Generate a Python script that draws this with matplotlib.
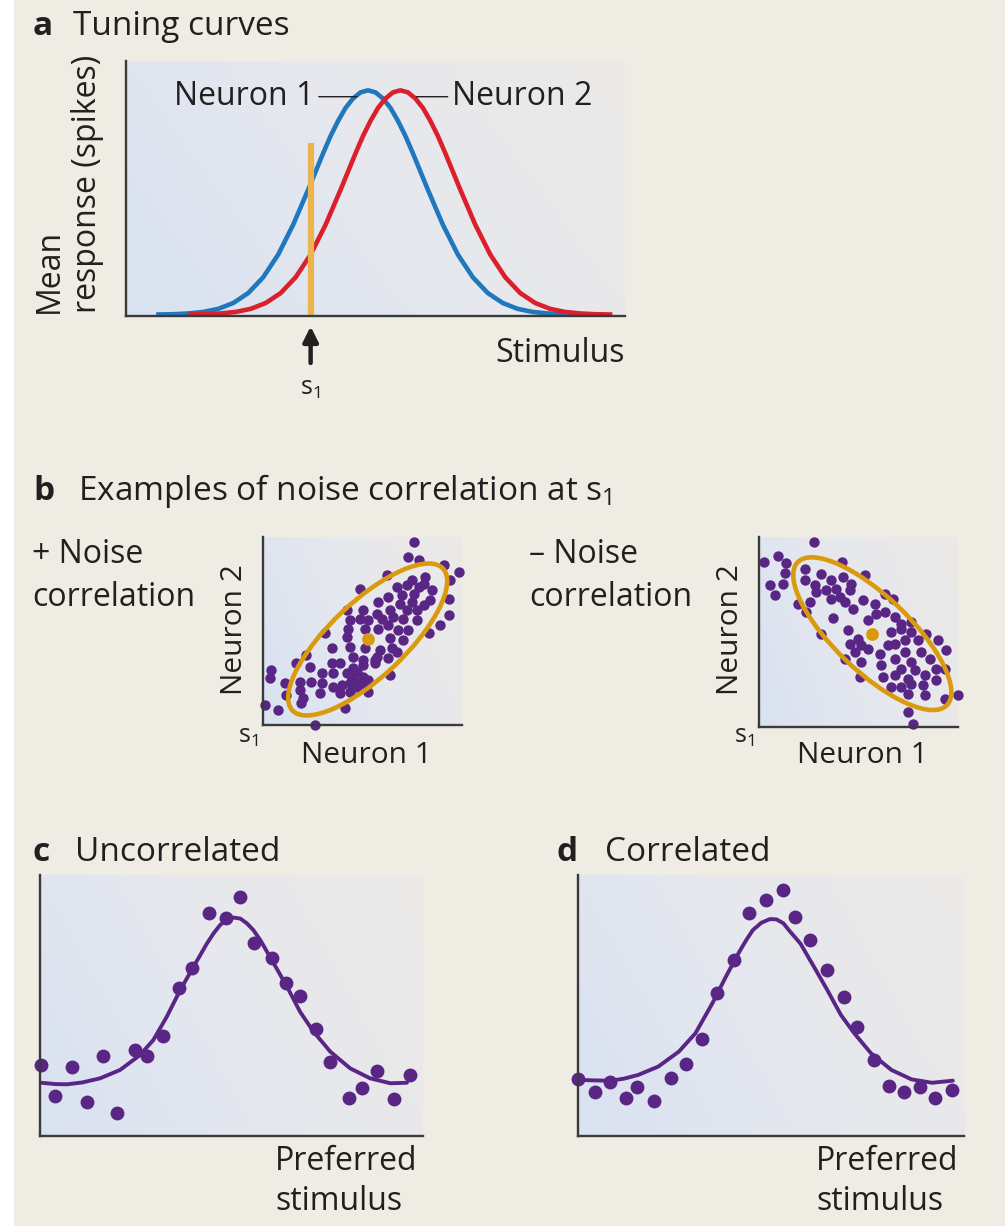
import matplotlib
matplotlib.use('Agg')
import numpy as np
import matplotlib.pyplot as plt
from matplotlib.patches import Ellipse, Rectangle
from matplotlib.colors import LinearSegmentedColormap

plt.rcParams['font.family'] = ['Open Sans', 'DejaVu Sans']
plt.rcParams['mathtext.fontset'] = 'custom'
plt.rcParams['mathtext.rm'] = 'Open Sans'
plt.rcParams['mathtext.it'] = 'Open Sans'

W, H = 1005, 1229

# ---- panel a: tuning curves (stimulus 0-100, normalised mean response) ----
stim_n1 = [6.5, 9.5, 12.5, 15.5, 18.5, 21.5, 24.5, 27.5, 30.5, 33.5, 36.5, 39.5,
           41, 42.5, 44, 45.5, 47, 48.5, 50, 51.5, 53, 54.5, 56, 57.5,
           60.5, 63.5, 66.5, 69.5, 72.5, 75.5, 78.5, 81.5, 84.5, 87.5, 90.5]
resp_n1 = [0.006, 0.007, 0.010, 0.016, 0.028, 0.051, 0.090, 0.152, 0.241, 0.358, 0.495, 0.638,
           0.706, 0.765, 0.816, 0.853, 0.877, 0.885, 0.877, 0.853, 0.816, 0.765, 0.706, 0.638,
           0.495, 0.358, 0.241, 0.152, 0.090, 0.051, 0.028, 0.016, 0.010, 0.007, 0.006]
stim_n2 = [13, 16, 19, 22, 25, 28, 31, 34, 37, 40, 43, 46,
           47.5, 49, 50.5, 52, 53.5, 55, 56.5, 58, 59.5, 61, 62.5, 64,
           67, 70, 73, 76, 79, 82, 85, 88, 91, 94, 97]
resp_n2 = [0.006, 0.007, 0.010, 0.016, 0.028, 0.051, 0.090, 0.152, 0.241, 0.358, 0.495, 0.638,
           0.706, 0.765, 0.816, 0.853, 0.877, 0.885, 0.877, 0.853, 0.816, 0.765, 0.706, 0.638,
           0.495, 0.358, 0.241, 0.152, 0.090, 0.051, 0.028, 0.016, 0.010, 0.007, 0.006]
s1 = 37.0

# ---- panel b: single-trial responses at s1 (spikes) ----
pos_n1 = [49.0, 47.5, 50.5, 58.0, 62.5, 41.0, 48.5, 52.5, 60.0, 33.0, 44.0, 47.0, 50.5, 54.5,
          52.0, 38.5, 41.5, 45.5, 49.0, 54.0, 59.5, 29.0, 34.0, 38.0, 42.0, 45.0, 47.0, 50.0,
          52.0, 48.5, 59.5, 30.0, 33.0, 35.5, 39.5, 43.0, 46.0, 50.0, 57.0, 22.5, 29.5, 34.5,
          38.5, 41.5, 44.5, 47.5, 53.5, 29.0, 42.0, 46.0, 24.5, 30.0, 34.5, 39.0, 42.5, 17.0,
          31.0, 38.0, 41.5, 44.0, 14.0, 18.0, 24.5, 27.0, 34.0, 37.5, 6.5, 21.5, 25.0, 29.0,
          32.0, 34.0, 42.0, 6.0, 10.5, 15.0, 18.5, 21.5, 25.0, 30.0, 33.0, 34.5, 11.0, 15.0,
          21.0, 27.0, 30.0, 35.5, 16.0, 4.5, 8.5, 15.5, 28.5, 19.5, 31.0, 30.5, 35.5, 27.5,
          32.0, 37.5, 34.0]
pos_n2 = [56.5, 52.0, 51.0, 49.5, 47.5, 46.5, 45.0, 46.0, 45.0, 42.5, 43.0, 43.5, 43.0, 42.0,
          44.0, 38.5, 40.0, 40.5, 41.0, 39.0, 39.5, 36.0, 36.0, 35.0, 36.0, 38.0, 36.0, 36.0,
          37.5, 38.5, 34.5, 33.0, 33.5, 33.0, 33.5, 34.0, 33.5, 33.0, 31.5, 29.0, 30.5, 30.5,
          30.5, 31.5, 30.0, 30.0, 29.0, 28.0, 27.5, 27.0, 24.5, 25.0, 24.5, 24.0, 24.5, 22.5,
          22.0, 22.0, 21.5, 23.5, 20.0, 19.0, 20.0, 20.0, 19.5, 20.0, 18.0, 17.0, 17.0, 17.0,
          17.5, 16.0, 16.5, 15.5, 14.0, 14.5, 14.5, 14.0, 13.0, 14.0, 14.5, 13.5, 10.5, 12.0,
          11.0, 11.0, 11.5, 11.5, 9.5, 7.5, 6.0, 8.0, 6.5, 1.5, 18.5, 15.5, 15.0, 13.5,
          13.0, 21.0, 21.0]
pos_mean = (35.3, 27.2)

neg_n1 = [19.3, 4.3, 8.5, 11.0, 10.5, 16.5, 6.0, 7.5, 10.0, 21.5, 24.3, 27.7, 28.0, 34.5,
          16.5, 19.5, 20.0, 23.0, 26.0, 30.5, 30.0, 27.0, 24.5, 14.5, 18.0, 28.5, 31.0, 34.0,
          37.5, 40.5, 43.0, 17.0, 25.0, 35.5, 38.0, 40.5, 43.5, 45.5, 48.5,
          21.5, 29.5, 32.5, 42.5, 45.5, 48.5, 53.0, 30.0, 33.5, 31.5, 35.5, 39.0, 41.5, 43.5,
          46.5, 50.5, 56.5, 28.5, 33.5, 39.5, 43.5, 46.5, 48.5, 51.5, 54.0, 59.0, 33.0, 40.0,
          43.5, 45.5, 47.5, 49.5, 52.5, 56.0, 58.5, 42.5, 45.5, 48.5, 52.0, 56.0, 47.5, 52.5,
          58.5, 62.5, 47.5, 49.0]
neg_n2 = [56.5, 50.5, 52.2, 50.3, 47.3, 48.5, 43.5, 40.5, 43.8, 47.0, 45.0, 50.5, 46.0, 46.5,
          45.0, 43.5, 41.5, 42.0, 42.5, 44.0, 42.0, 40.0, 39.5, 38.0, 38.5, 38.5, 36.5, 39.0,
          38.0, 41.0, 39.5, 35.5, 33.8, 33.0, 35.0, 35.5, 34.0, 32.0, 32.5,
          29.0, 30.0, 27.5, 29.5, 30.5, 29.5, 29.0, 26.0, 25.5, 23.5, 24.5, 23.0, 25.5, 26.0,
          27.0, 27.0, 27.0, 21.5, 20.5, 19.5, 21.5, 23.5, 20.5, 23.5, 21.5, 24.0, 16.0, 16.0,
          16.5, 18.5, 15.5, 18.0, 16.5, 18.5, 18.5, 13.0, 13.0, 14.0, 13.5, 15.0, 11.0, 10.5,
          9.5, 10.5, 5.5, 2.0]
neg_mean = (36.8, 29.0)

# ---- panels c, d: population response vs preferred stimulus ----
unc_pref = [0.2, 3.9, 8.3, 12.2, 16.4, 20.0, 24.7, 28.0, 32.2, 36.3, 39.8, 44.0, 48.5,
            52.3, 56.0, 60.5, 64.2, 67.9, 72.1, 75.8, 80.6, 84.1, 88.0, 92.3, 96.5]
unc_resp = [27.2, 15.5, 26.6, 13.2, 30.7, 8.9, 33.0, 30.7, 38.3, 56.8, 64.5, 85.6, 83.4,
            91.7, 73.8, 68.3, 58.5, 53.8, 40.9, 28.2, 14.7, 18.3, 25.0, 14.0, 23.4]
unc_fit_x = [0.2, 4.0, 7.0, 11.0, 15.7, 20.9, 26.1, 29.6, 33.1, 36.6, 40.1, 43.6, 45.3, 47.0,
             48.8, 50.5, 52.3, 54.0, 55.7, 57.5, 61.0, 64.5, 67.9, 71.4, 75.8, 81.0, 86.2,
             91.5, 95.8]
unc_fit_y = [20.4, 19.9, 19.8, 20.5, 22.1, 25.3, 31.0, 36.8, 45.7, 55.9, 64.9, 73.8, 77.6, 80.8,
             83.0, 83.7, 83.3, 81.5, 78.9, 75.1, 66.2, 57.2, 47.6, 40.0, 32.3, 25.9, 22.1,
             20.2, 20.4]

cor_pref = [0.0, 4.4, 8.4, 12.5, 15.4, 19.7, 24.1, 28.1, 32.0, 36.1, 40.3, 44.3, 48.8,
            53.0, 56.1, 60.2, 64.6, 68.8, 72.4, 76.6, 80.6, 84.5, 88.6, 92.6, 96.8]
cor_resp = [21.7, 16.7, 20.6, 14.4, 18.6, 13.5, 22.3, 27.6, 37.3, 54.7, 67.4, 85.3, 90.4,
            94.3, 84.0, 75.1, 63.6, 53.4, 41.6, 29.1, 19.3, 16.7, 18.9, 14.4, 17.6]
cor_fit_x = [0.0, 4.3, 8.6, 12.0, 15.6, 20.8, 26.1, 30.4, 34.8, 38.3, 41.8, 43.6, 45.3, 47.5,
             49.7, 51.4, 53.2, 54.9, 57.6, 61.1, 64.6, 68.1, 71.6, 75.9, 81.2, 86.4, 91.7, 97.1]
cor_fit_y = [21.5, 21.3, 21.2, 22.0, 23.4, 26.6, 32.3, 39.3, 50.8, 61.0, 70.6, 75.1, 78.9, 81.7,
             83.1, 83.0, 81.5, 78.4, 73.8, 64.9, 55.9, 46.4, 39.3, 31.7, 25.3, 21.7, 20.4, 21.2]

BG = '#efece4'
TXT = '#231f20'
SPINE = '#3a3a3a'
PURPLE = '#5a2686'
GOLD = '#d99b0d'
S1_COL = '#ebb44f'
BLUE = '#1f77bd'
RED = '#db1f2b'
FS = 23

grad = LinearSegmentedColormap.from_list('panel', ['#d9e2f1', '#e6e8ee', '#eceae8'])

fig = plt.figure(figsize=(W / 100, H / 100), dpi=100, facecolor='white')
fig.add_artist(Rectangle((14 / W, 3 / H), 1, 1, transform=fig.transFigure,
                         facecolor=BG, edgecolor='none', zorder=-10))


def fx(x):
    return x / W


def fy(y):
    return 1 - y / H


def panel_axes(left, top, right, bottom):
    ax = fig.add_axes([fx(left), fy(bottom), (right - left) / W, (bottom - top) / H])
    ax.set_facecolor('none')
    gx, gy = np.meshgrid(np.linspace(0, 1, 80), np.linspace(0, 1, 80))
    ax.imshow(0.8 * gx + 0.3 * gy, cmap=grad, extent=(0, 1, 0, 1), origin='lower',
              transform=ax.transAxes, aspect='auto', zorder=0, vmin=0, vmax=1.1)
    for side in ['top', 'right']:
        ax.spines[side].set_visible(False)
    for side in ['left', 'bottom']:
        ax.spines[side].set_color(SPINE)
        ax.spines[side].set_linewidth(1.7)
        ax.spines[side].set_zorder(6)
    ax.set_xticks([])
    ax.set_yticks([])
    return ax


def heading(x_letter, x_title, y, letter, title):
    fig.text(fx(x_letter), fy(y), letter, fontsize=FS + 1, fontweight='bold', color=TXT, va='baseline')
    fig.text(fx(x_title), fy(y), title, fontsize=FS + 1, color=TXT, va='baseline')


# ---- a ----
heading(33, 73, 35, 'a', 'Tuning curves')
ax = panel_axes(126, 61, 625, 316)
ax.plot(stim_n1, resp_n1, color=BLUE, lw=3.3, zorder=3)
ax.plot(stim_n2, resp_n2, color=RED, lw=3.3, zorder=3)
ax.vlines(s1, 0, 0.68, color=S1_COL, lw=4.5, zorder=4)
ax.set_xlim(0, 100)
ax.set_ylim(0, 1)
ax.annotate('Neuron 1', xy=(46.2, 0.86), xytext=(37.8, 0.86), ha='right', va='center',
            fontsize=FS, color=TXT, arrowprops=dict(arrowstyle='-', color=TXT, lw=1.0,
                                                    shrinkA=1, shrinkB=0))
ax.annotate('Neuron 2', xy=(58.2, 0.86), xytext=(65.3, 0.86), ha='left', va='center',
            fontsize=FS, color=TXT, arrowprops=dict(arrowstyle='-', color=TXT, lw=1.0,
                                                    shrinkA=1, shrinkB=0))
ax.annotate('', xy=(s1, -0.03), xytext=(s1, -0.195),
            arrowprops=dict(arrowstyle='-|>,head_width=0.45,head_length=0.9',
                            color=TXT, lw=3.2), annotation_clip=False)
ax.text(s1, -0.235, 's$_1$', ha='center', va='top', fontsize=18, color=TXT)
ax.text(100, -0.18, 'Stimulus', ha='right', va='baseline', fontsize=FS, color=TXT)
fig.text(fx(68), fy(313), 'Mean\nresponse (spikes)', rotation=90, ha='center', va='bottom',
         multialignment='left', linespacing=1.2, fontsize=FS, color=TXT)

# ---- b ----
heading(33, 78, 500, 'b', 'Examples of noise correlation at s$_1$')
fig.text(fx(32), fy(563), '+ Noise', fontsize=FS, color=TXT, va='baseline')
fig.text(fx(32), fy(606), 'correlation', fontsize=FS, color=TXT, va='baseline')
fig.text(fx(529), fy(563), '\u2013 Noise', fontsize=FS, color=TXT, va='baseline')
fig.text(fx(529), fy(606), 'correlation', fontsize=FS, color=TXT, va='baseline')

for (x0, x1, y1, xs, ys, mean, ang, xl, yl) in [
        (263, 462, 725, pos_n1, pos_n2, pos_mean, 43.5, (4.0, 63.5), (1.5, 58.0)),
        (759, 958, 727, neg_n1, neg_n2, neg_mean, -43.7, (2.8, 62.5), (1.0, 58.0))]:
    bx = panel_axes(x0, 537, x1, y1)
    bx.scatter(xs, ys, s=56, color=PURPLE, linewidths=0, clip_on=False, zorder=3)
    bx.add_patch(Ellipse(mean, 62, 22.5, angle=ang, fill=False, edgecolor=GOLD, lw=3.3, zorder=4))
    bx.scatter([mean[0]], [mean[1]], s=85, color=GOLD, linewidths=0, zorder=5)
    bx.set_xlim(*xl)
    bx.set_ylim(*yl)
    fig.text(fx(x0 - 29), fy(630), 'Neuron 2', rotation=90, ha='center', va='center',
             fontsize=FS - 1.5, color=TXT)
    fig.text(fx((x0 + x1) / 2 + 4), fy(763), 'Neuron 1', ha='center', va='baseline',
             fontsize=FS - 1.5, color=TXT)
    fig.text(fx(x0 - 25), fy(743), 's$_1$', ha='left', va='baseline', fontsize=18, color=TXT)

# ---- c, d ----
for (x0, x1, pref, resp, fit_x, fit_y, letter, title, xl, xt) in [
        (40, 423, unc_pref, unc_resp, unc_fit_x, unc_fit_y, 'c', 'Uncorrelated', 32, 75),
        (578, 964, cor_pref, cor_resp, cor_fit_x, cor_fit_y, 'd', 'Correlated', 556, 605)]:
    heading(xl, xt, 861, letter, title)
    cx = panel_axes(x0, 875, x1, 1136)
    cx.plot(fit_x, fit_y, color=PURPLE, lw=2.8, zorder=3, solid_capstyle='round',
            solid_joinstyle='round')
    cx.scatter(pref, resp, s=100, color=PURPLE, linewidths=0, clip_on=False, zorder=4)
    cx.set_xlim(0, 100)
    cx.set_ylim(0, 100)
    fig.text(fx(x1 - 148), fy(1170), 'Preferred', ha='left', va='baseline', fontsize=FS, color=TXT)
    fig.text(fx(x1 - 148), fy(1210), 'stimulus', ha='left', va='baseline', fontsize=FS, color=TXT)

fig.savefig('out.png', dpi=100, facecolor=fig.get_facecolor())
